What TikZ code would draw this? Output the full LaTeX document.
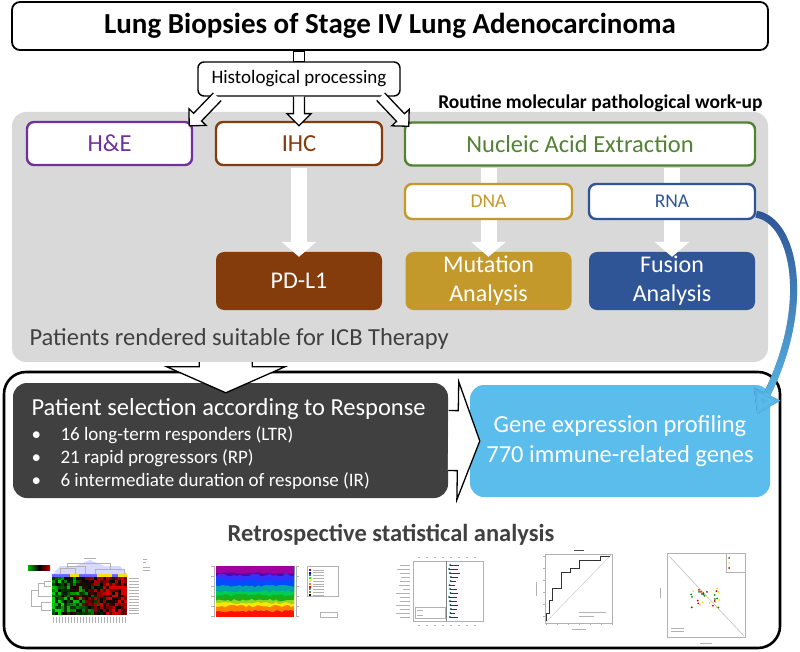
\documentclass[tikz,border=0pt]{standalone}
\usepackage{fontspec}
\setmainfont{Carlito}
\usetikzlibrary{positioning,calc,arrows.meta,fadings}

\definecolor{panelgrey}{HTML}{D9D9D9}
\definecolor{hnepurple}{HTML}{7030A0}
\definecolor{ihcbrown}{HTML}{843C0C}
\definecolor{naegreen}{HTML}{548235}
\definecolor{dnagold}{HTML}{C4992C}
\definecolor{rnablue}{HTML}{2F5597}
\definecolor{seldark}{HTML}{404040}
\definecolor{geplight}{HTML}{5BBDEB}
\definecolor{textgrey}{HTML}{404040}

\newcommand{\fs}[2]{\fontsize{#1}{#2}\selectfont}
% hollow block arrow: from, to, shaft half width, head half width, head length
\newcommand{\harrow}[5]{%
  \path let \p1=($(#2)-(#1)$) in \pgfextra{%
    \pgfmathsetmacro\harang{atan2(\y1,\x1)}\global\let\harang\harang
    \pgfmathsetmacro\harlen{veclen(\x1,\y1)}\global\let\harlen\harlen};
  \begin{scope}[shift={(#1)},rotate=\harang]
    \fill[white] (0,-#3) -- (\harlen-#5,-#3) -- (\harlen-#5,-#4) -- (\harlen,0)
      -- (\harlen-#5,#4) -- (\harlen-#5,#3) -- (0,#3) -- cycle;
    \draw[hollow] (0,-#3) -- (\harlen-#5,-#3) -- (\harlen-#5,-#4) -- (\harlen,0)
      -- (\harlen-#5,#4) -- (\harlen-#5,#3) -- (0,#3);
  \end{scope}}

\begin{document}
\begin{tikzpicture}[
    x=1pt,y=-1pt,
    box/.style={draw,fill=white,rounded corners=7pt,line width=2.4pt,minimum height=43pt,inner sep=0pt,font=\fs{24.5}{28}},
    subbox/.style={box,minimum height=35pt,font=\fs{19.5}{22}},
    result/.style={rounded corners=8pt,minimum width=166pt,minimum height=58pt,text=white,align=center,inner sep=0pt,font=\fs{24}{29}},
    whitearrow/.style={white,line width=16pt,-{Triangle[length=15pt,width=34pt]}},
    hollow/.style={draw=black,line width=1.3pt,line join=miter},
    curvearrow/.style={line width=7pt,-{Triangle[length=22pt,width=28pt]}},
    thin/.style={gray!60,line width=0.4pt}
]
    \useasboundingbox (0,0) rectangle (800,652);

    % Routine work-up panel
    \node[fill=panelgrey,rounded corners=14pt,minimum width=756pt,minimum height=250pt] (panel) at (390,237) {};
    \node[anchor=base east,font=\fs{19.5}{22}\bfseries] (routine) at (766,109) {Routine molecular pathological work-up};

    \node[box,draw=hnepurple,text=hnepurple,minimum width=165pt] (hne) at (109.5,143.5) {H\&E};
    \node[box,draw=ihcbrown,text=ihcbrown,minimum width=166pt] (ihc) at (299,143.5) {IHC};
    \node[box,draw=naegreen,text=naegreen,minimum width=350pt] (nae) at (580,144) {Nucleic Acid Extraction};

    \node[result,fill=ihcbrown] (pdl1) at (299,281) {PD-L1};
    \node[result,fill=dnagold] (mut) at (488.5,281) {Mutation\\Analysis};
    \node[result,fill=rnablue] (fus) at (672,281) {Fusion\\Analysis};

    \draw[whitearrow] ($(ihc.south)+(0,1.5)$) -- ($(pdl1.north)+(0,5)$);
    \draw[whitearrow] ($(mut.north |- nae.south)+(0,1.5)$) -- ($(mut.north)+(0,5)$);
    \draw[whitearrow] ($(fus.north |- nae.south)+(0,1.5)$) -- ($(fus.north)+(0,5)$);

    \node[subbox,draw=dnagold,text=dnagold,minimum width=167pt] (dna) at (488.5,201.5) {DNA};
    \node[subbox,draw=rnablue,text=rnablue,minimum width=166pt] (rna) at (672,201.5) {RNA};

    \node[anchor=base west,text=textgrey,font=\fs{24.5}{28}] (suitable) at (26,345) {Patients rendered suitable for ICB Therapy};

    % Biopsies and processing
    \node[draw,fill=white,line width=1.8pt,rounded corners=8pt,minimum width=756pt,minimum height=48pt,font=\fs{29}{32}\bfseries] (title) at (390,26) {Lung Biopsies of Stage IV Lung Adenocarcinoma};
    \node[draw,fill=white,line width=1.4pt,rounded corners=6pt,minimum width=202pt,minimum height=34pt,font=\fs{19}{22}] (hist) at (299,79) {Histological processing};
    \draw[hollow,fill=white] ($(hist.north)+(-5.5,0)$) rectangle ($(hist.north |- title.south)+(5.5,0)$);

    \coordinate (histL) at ($(hist.south west)+(20,0)$);
    \coordinate (histR) at ($(hist.south east)+(-20,0)$);
    \coordinate (hneTip) at ($(hne.north east)+(-4,5)$);
    \coordinate (ihcTip) at ($(ihc.north)+(0,5)$);
    \coordinate (naeTip) at ($(nae.north west)+(5,5)$);
    \harrow{histL}{hneTip}{5.5}{12}{12}
    \harrow{hist.south}{ihcTip}{5.5}{12}{12}
    \harrow{histR}{naeTip}{5.5}{12}{12}

    % Selection and profiling
    \node[draw,line width=2.6pt,rounded corners=22pt,minimum width=776pt,minimum height=276pt] (frame) at (392,510) {};
    \node[fill=seldark,rounded corners=14pt,minimum width=435pt,minimum height=115pt] (sel) at (230.5,440.5) {};
    \node[anchor=base west,text=white,font=\fs{24.5}{28}] (seltitle) at (28,415) {Patient selection according to Response};
    \foreach \txt [count=\i] in {16 long-term responders (LTR),21 rapid progressors (RP),6 intermediate duration of response (IR)} {
        \node[anchor=base west,text=white,font=\fs{19}{22}] (bul\i) at (28,{417+23*\i}) {\textbullet};
        \node[anchor=base west,text=white,font=\fs{19}{22}] (grp\i) at (57,{417+23*\i}) {\txt};
    }
    \node[fill=geplight,rounded corners=14pt,minimum width=300pt,minimum height=112pt,text=white,align=center,font=\fs{24.5}{30}] (gep) at (620,441) {Gene expression profiling\\770 immune-related genes};

    \coordinate (selTop) at ($(sel.north west)+(213,10)$);
    \coordinate (gepIn) at ($(gep.west)+(10,0)$);
    \coordinate (panelOut) at (selTop |- panel.south);
    \harrow{panelOut}{selTop}{26.5}{59}{26}
    \harrow{sel.east}{gepIn}{30}{59}{22}

    % RNA to expression profiling
    \coordinate (rnaOut) at ($(rna.south east)+(0,-6)$);
    \coordinate (gepTip) at ($(gep.north east)+(-13,29)$);
    \draw[curvearrow,rnablue] (rnaOut) .. controls +(38,6) and +(55,-110) .. (gepTip);
    \draw[curvearrow,geplight,path fading=north] (rnaOut) .. controls +(38,6) and +(55,-110) .. (gepTip);

    \node[anchor=base,text=textgrey,font=\fs{24.5}{28}\bfseries] (retro) at (391,541) {Retrospective statistical analysis};

    % heat map
    \pgfmathsetseed{11}
    \shade[left color=green!70!black,right color=red!80!black,middle color=black] (28,565) rectangle (50,570);
    \foreach \c in {0,...,24} {
        \foreach \r in {0,...,12} {
            \pgfmathsetmacro\v{0.9*rand+(\c-11)/12}
            \pgfmathtruncatemacro\a{min(85,abs(\v)*65)}
            \ifdim\v pt<0pt \def\hue{green!\a!black}\else\def\hue{red!\a!black}\fi
            \fill[\hue] ({52+3*\c},{577+2.92*\r}) rectangle +(3,2.92);
        }
        \pgfmathparse{rand<0 ? "yellow!80!orange" : "blue!60"}
        \fill[\pgfmathresult] ({52+3*\c},574) rectangle +(3,3);
        \draw[thin] ({53.5+3*\c},617) -- +(0,6);
    }
    \foreach \r in {0,...,12} \draw[thin] (129,{578.5+2.92*\r}) -- +(10,0);
    \draw[thin] (51,581) -- (44,581) -- (44,586) -- (51,586) (44,583.5) -- (38,583.5) -- (38,596) -- (51,596)
        (51,602) -- (41,602) -- (41,610) -- (51,610) (41,606) -- (31,606) -- (31,590) -- (38,590);
    \fill[blue!15] (53,574) -- (60,566) -- (75,566) -- (90,560) -- (105,566) -- (120,566) -- (127,574) -- cycle;
    \draw[thin] (60,574) -- (60,568) -- (75,568) -- (75,574) (67,568) -- (67,563) -- (110,563) -- (110,569)
        (95,574) -- (95,569) -- (124,569) -- (124,574) (85,574) -- (85,566) -- (67,566);
    \draw[thin] (84,558) -- (96,558) (143,559) -- (147,559) (143,562) -- (146,562) (143,567) -- (150,567) (143,570) -- (150,570);

    % stacked fractions
    \pgfmathsetseed{5}
    \fill[red!85!orange] (216,566) rectangle (294,617);
    \foreach \b/\col in {611/orange,606/yellow!90!orange,603/yellow!60!green,600/green!65!black!90,595/green!60!cyan!80!black,591/teal!70!cyan,586/blue!70!cyan,580/blue!80,575/violet!70!blue} {
        \fill[\col] (216,566) -- (294,566) -- plot[domain=294:216,samples=27] (\x,{\b+1.3*rand}) -- cycle;
    }
    \fill[violet!75!magenta] (216,566) -- (294,566) -- plot[domain=294:216,samples=27] (\x,{573+1*rand}) -- cycle;
    \draw[thin] (214,566) -- (214,617) (296,566) -- (296,617);
    \foreach \t in {566,576,...,616} \draw[thin] (211,\t) -- (214,\t) (296,\t) -- (299,\t);
    \draw[thin] (307,566) rectangle (338,596) (320,612) rectangle (337,617);
    \foreach \col [count=\i] in {violet,blue,teal,green,yellow,orange,red,gray,olive,black} {
        \fill[\col] (309,{566+2.8*\i}) rectangle +(2,2);
        \draw[thin] (313,{567+2.8*\i}) -- +(11,0);
    }

    % forest plot
    \pgfmathsetseed{8}
    \draw[thin] (413,561) rectangle (483,621);
    \draw[gray] (446,561) -- (446,621);
    \foreach \i in {0,...,13} {
        \pgfmathsetmacro\mx{449+2*rnd}
        \pgfmathsetmacro\wd{5+6*rnd}
        \draw[teal!60!black,line width=0.6pt] (\mx,{565+4*\i}) -- +(\wd,0);
        \fill[teal!60!black] (\mx,{565+4*\i}) circle (1);
        \draw[thin] ({395+8*rnd},{565+4*\i}) -- (410,{565+4*\i});
    }
    \draw[thin] (415,607) rectangle (445,618) (417,610) -- (423,610) (417,615) -- (423,615);
    \foreach \t in {418,426,...,480} \draw[thin] (\t,557) -- +(2,0) (\t,625) -- +(2,0);

    % ROC curve
    \draw[thin] (545,554) rectangle (612,623);
    \draw[gray!35,line width=0.6pt] (545,623) -- (612,554);
    \draw[black!80,line width=0.8pt] (546,621) -- (546,613) -- (549.3,613) -- (549.3,600) -- (552.7,600)
        -- (552.7,588.3) -- (561,588.3) -- (561,572.7) -- (570,572.7) -- (570,568.3) -- (579.3,568.3)
        -- (579.3,560) -- (600,560) -- (600,556.7) -- (610,556.7);
    \draw[black!70,line width=0.8pt] (574,550) -- (584,550);
    \draw[thin] (579,612) -- (606,612) (579,616) -- (594,616) (572,629) -- (586,629) (536,582) -- (536,596);
    \foreach \t in {546,557,...,612} \draw[thin] (\t,623) -- +(0,2);
    \foreach \t in {556,568,...,622} \draw[thin] (543,\t) -- +(2,0);

    % scatter plot
    \pgfmathsetseed{21}
    \draw[thin] (667,553) rectangle (745,637);
    \draw[gray!50,line width=0.6pt] (669,556) -- (744,636);
    \foreach \i in {1,...,30} {
        \pgfmathparse{mod(\i,3)==0 ? "red!75!black" : (mod(\i,3)==1 ? "green!55!black" : "yellow!80!orange")}
        \fill[\pgfmathresult] ({706+15*rand},{597+11*rand}) circle (1);
    }
    \draw[thin] (726,553) rectangle (745,572);
    \fill[green!55!black] (729,558) circle (1); \fill[yellow!80!orange] (729,563) circle (1); \fill[red!75!black] (729,568) circle (1);
    \draw[thin] (671,628) -- (684,628) (671,631) -- (684,631) (700,643) -- (712,643) (660,588) -- (660,598);
\end{tikzpicture}
\end{document}
